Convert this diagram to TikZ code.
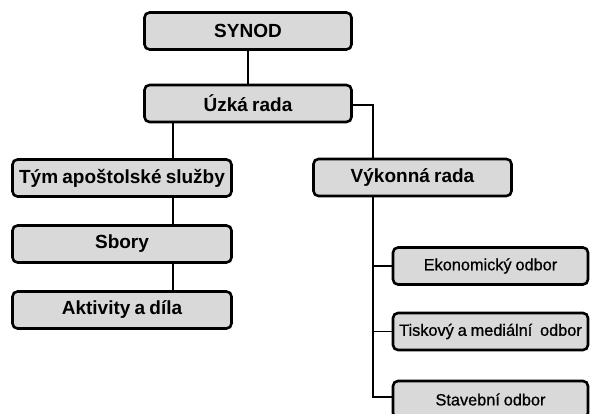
\documentclass[tikz,border=0pt]{standalone}
\usepackage{fontspec}
\setmainfont{Liberation Sans}
\newfontfamily\semibfont[FakeBold=0.8]{Liberation Sans}
\newcommand\mybigfont{\fontsize{19}{22}\selectfont\bfseries\spaceskip=0.22em\relax}
\newcommand\mysmallfont{\fontsize{16.3}{19}\selectfont\semibfont\spaceskip=0.24em\relax}
\definecolor{boxgray}{RGB}{217,217,217}
\begin{document}
\begin{tikzpicture}[x=1pt,y=-1pt,
  bigbox/.style={draw=black, line width=2.6pt, fill=boxgray, rounded corners=5pt,
    minimum height=37pt, inner sep=0pt, font=\mybigfont},
  smallbox/.style={draw=black, line width=2.6pt, fill=boxgray, rounded corners=5pt,
    minimum width=195pt, minimum height=37pt, inner sep=0pt, font=\mysmallfont},
  conn/.style={draw=black, line width=1.4pt}]
\useasboundingbox (0,0) rectangle (590,414);
\clip (0,0) rectangle (590,414);
% nodes
\node[bigbox, minimum width=207pt] (synod) at (248,31) {SYNOD};
\node[bigbox, minimum width=207pt] (uzka) at (248,103.5) {Úzká rada};
\node[bigbox, minimum width=219pt] (tym) at (122,178) {Tým apoštolské služby};
\node[bigbox, minimum width=219pt] (sbory) at (122,244) {Sbory};
\node[bigbox, minimum width=219pt] (akt) at (122,310) {Aktivity a díla};
\node[bigbox, minimum width=198pt] (vyk) at (412.5,177.5) {Výkonná rada};
\node[smallbox] (ekon) at (490.5,266) {Ekonomický odbor};
\node[smallbox] (tisk) at (490.5,331.5) {Tiskový a mediální \ odbor};
\node[smallbox] (stav) at (490.5,399.5) {Stavební odbor};
% coordinates
\coordinate (uzkaR) at (uzka.east |- 0,105);
\coordinate (bend) at (373,105);
\coordinate (vtrunk) at (373,0);
% connectors
\draw[conn] (synod.south) -- (uzka.north);
\draw[conn] (uzka.south -| 173,0) -- (tym.north -| 173,0);
\draw[conn] (tym.south -| 173,0) -- (sbory.north -| 173,0);
\draw[conn] (sbory.south -| 173,0) -- (akt.north -| 173,0);
\draw[conn] (uzkaR) -- (bend) -- (vyk.north -| bend);
\draw[conn] (vyk.south -| vtrunk) -- (vtrunk |- 0,397) -- (stav.west |- 0,397);
\draw[conn] (vtrunk |- ekon.west) -- (ekon.west);
\draw[conn] (vtrunk |- tisk.west) -- (tisk.west);
\end{tikzpicture}
\end{document}
